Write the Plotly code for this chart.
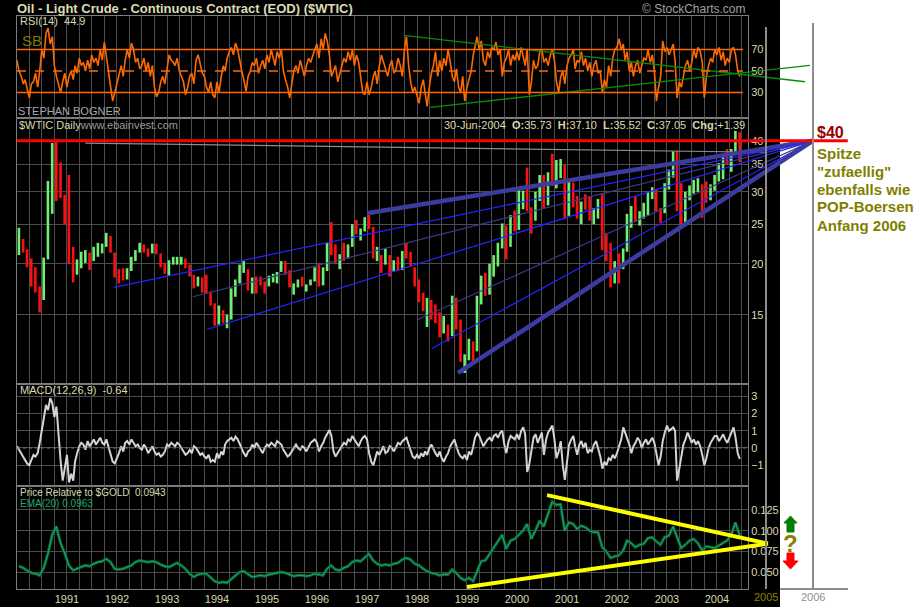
import numpy as np
import pandas as pd
import plotly.graph_objects as go

W, H = 915, 607

# ---------------- DATA ----------------
# monthly bars, Jan 1990 - Jun 2004
month_start = pd.date_range('1990-01-01', periods=174, freq='MS')
price_high = [
    24.5, 23.0, 21.7, 20.6, 19.6, 17.6, 20.7, 31.9, 39.5, 40.4, 35.4, 29.5,
    33.0, 22.0, 20.5, 21.4, 21.6, 21.3, 22.0, 22.5, 22.4, 23.8, 23.4, 21.3,
    19.4, 19.5, 19.5, 20.8, 21.6, 22.5, 22.3, 21.8, 22.4, 22.4, 21.2, 20.1,
    20.4, 20.8, 20.8, 20.8, 20.6, 19.9, 18.8, 18.6, 18.5, 18.8, 17.1, 16.0,
    15.8, 15.4, 15.0, 17.4, 18.3, 19.9, 20.3, 19.4, 18.5, 18.6, 18.6, 18.1,
    18.7, 18.9, 19.1, 20.3, 20.3, 19.3, 17.9, 18.3, 18.6, 17.8, 18.3, 19.6,
    20.0, 19.6, 22.5, 25.3, 22.3, 21.1, 22.5, 22.3, 25.0, 25.6, 24.4, 26.0,
    26.6, 24.6, 22.0, 21.0, 21.8, 21.0, 20.4, 20.8, 21.5, 22.5, 21.4, 19.6,
    18.3, 17.0, 16.5, 16.3, 15.9, 15.2, 14.9, 14.2, 16.7, 16.5, 14.6, 12.0,
    13.1, 12.9, 16.7, 18.7, 19.0, 20.0, 21.0, 22.5, 25.1, 24.8, 26.3, 27.0,
    30.3, 30.2, 34.4, 27.5, 30.0, 33.0, 33.0, 33.5, 37.2, 35.9, 36.1, 35.0,
    32.0, 31.6, 29.3, 28.4, 29.6, 29.3, 27.4, 28.8, 29.8, 23.8, 22.5, 20.3,
    21.2, 21.8, 26.5, 27.7, 29.3, 26.9, 28.2, 30.0, 30.8, 30.5, 27.4, 31.5,
    34.0, 37.7, 37.8, 31.5, 30.0, 31.1, 32.1, 32.4, 31.3, 31.8, 31.3, 33.0,
    35.3, 36.6, 38.2, 38.2, 42.3, 42.0,
]
price_low = [
    21.0, 21.3, 19.6, 17.6, 17.0, 15.2, 16.3, 20.5, 26.5, 28.5, 29.0, 25.0,
    20.0, 18.0, 18.8, 19.5, 20.1, 19.3, 20.3, 20.8, 21.2, 22.0, 21.3, 18.5,
    17.9, 18.2, 18.3, 19.2, 20.3, 21.3, 21.3, 20.8, 21.2, 21.1, 19.6, 18.9,
    18.7, 19.9, 19.9, 19.9, 19.5, 18.6, 17.4, 17.6, 17.0, 16.9, 15.8, 14.1,
    14.2, 14.3, 13.9, 14.6, 16.6, 17.9, 19.0, 17.2, 16.9, 16.9, 17.7, 16.9,
    17.6, 18.0, 17.9, 19.1, 18.8, 17.5, 16.8, 17.5, 17.6, 17.1, 17.7, 18.1,
    17.6, 17.7, 19.2, 21.0, 20.0, 19.4, 20.3, 20.6, 22.0, 23.6, 22.8, 24.0,
    24.3, 20.6, 20.3, 19.0, 19.9, 18.6, 19.1, 19.2, 19.3, 20.6, 19.7, 17.6,
    16.1, 15.3, 14.0, 14.6, 14.3, 13.2, 13.5, 12.9, 13.3, 13.8, 11.5, 10.8,
    11.6, 11.5, 12.2, 15.9, 16.7, 16.8, 18.6, 19.7, 21.8, 20.5, 22.0, 24.0,
    24.2, 27.2, 26.9, 23.7, 25.5, 28.5, 27.4, 27.8, 31.0, 30.6, 32.4, 25.8,
    26.2, 27.5, 25.8, 25.0, 27.1, 25.5, 25.0, 25.8, 21.6, 20.3, 17.5, 17.9,
    17.9, 19.4, 21.4, 24.5, 25.3, 24.8, 25.8, 26.2, 28.8, 26.9, 25.2, 26.6,
    30.4, 32.5, 26.9, 25.0, 25.1, 28.6, 29.7, 30.0, 25.9, 28.2, 28.6, 30.2,
    31.8, 32.2, 34.9, 33.6, 37.2, 35.5,
]
price_close = [
    22.7, 21.5, 20.3, 18.4, 17.4, 17.1, 20.7, 27.2, 39.0, 35.2, 29.5, 28.4,
    21.5, 19.0, 19.7, 20.9, 21.2, 20.4, 21.6, 21.7, 22.2, 23.3, 21.4, 19.1,
    18.9, 18.7, 19.3, 20.6, 21.5, 22.0, 21.7, 21.6, 21.9, 21.2, 20.2, 19.5,
    20.3, 20.4, 20.4, 20.6, 19.8, 18.9, 17.8, 18.3, 18.2, 17.0, 15.9, 14.2,
    15.2, 14.5, 14.6, 16.8, 18.2, 19.1, 19.4, 17.6, 18.4, 18.2, 18.1, 17.8,
    18.4, 18.5, 19.2, 20.2, 18.9, 17.6, 17.6, 17.8, 17.6, 17.6, 18.2, 19.6,
    17.7, 19.5, 21.5, 21.2, 19.8, 20.9, 20.4, 22.2, 24.4, 23.4, 24.5, 25.9,
    24.2, 20.6, 20.9, 20.2, 20.9, 19.8, 20.1, 19.6, 21.2, 21.1, 19.9, 17.6,
    17.2, 15.4, 15.6, 15.3, 15.2, 14.2, 14.2, 13.4, 16.1, 14.4, 11.6, 12.0,
    12.8, 12.3, 16.6, 18.7, 16.8, 19.3, 20.5, 22.1, 24.5, 21.8, 26.5, 25.6,
    27.6, 30.0, 26.9, 25.7, 29.0, 32.5, 27.4, 33.1, 30.8, 32.7, 34.4, 26.8,
    28.7, 27.4, 26.3, 28.5, 28.4, 26.3, 26.4, 27.2, 23.4, 21.2, 19.4, 19.8,
    19.5, 21.7, 26.3, 27.3, 25.3, 26.9, 27.0, 28.9, 30.5, 27.2, 26.9, 31.2,
    33.5, 36.6, 31.0, 25.8, 29.6, 30.2, 30.5, 31.6, 29.2, 29.1, 30.4, 32.5,
    33.1, 36.2, 35.8, 37.4, 39.9, 37.05,
]

# price relative to $GOLD, monthly
rel_gold = [
    0.057, 0.055, 0.052, 0.049, 0.048, 0.046, 0.055, 0.072, 0.095, 0.105, 0.085, 0.073,
    0.058, 0.052, 0.054, 0.056, 0.058, 0.057, 0.060, 0.062, 0.063, 0.066, 0.062, 0.054,
    0.053, 0.054, 0.056, 0.058, 0.062, 0.064, 0.063, 0.062, 0.063, 0.062, 0.059, 0.057,
    0.056, 0.059, 0.061, 0.058, 0.054, 0.048, 0.044, 0.047, 0.048, 0.048, 0.043, 0.039,
    0.037, 0.038, 0.037, 0.041, 0.046, 0.050, 0.051, 0.047, 0.044, 0.045, 0.046, 0.045,
    0.047, 0.048, 0.049, 0.050, 0.049, 0.047, 0.045, 0.046, 0.046, 0.045, 0.046, 0.048,
    0.047, 0.046, 0.054, 0.058, 0.053, 0.052, 0.055, 0.057, 0.062, 0.064, 0.063, 0.068,
    0.072, 0.064, 0.060, 0.058, 0.059, 0.058, 0.060, 0.061, 0.065, 0.067, 0.065, 0.060,
    0.058, 0.054, 0.051, 0.049, 0.048, 0.046, 0.047, 0.047, 0.053, 0.049, 0.043, 0.040,
    0.043, 0.039, 0.050, 0.063, 0.064, 0.072, 0.080, 0.087, 0.095, 0.078, 0.088, 0.090,
    0.095, 0.100, 0.108, 0.090, 0.100, 0.112, 0.105, 0.120, 0.135, 0.131, 0.132, 0.100,
    0.110, 0.108, 0.102, 0.106, 0.104, 0.100, 0.098, 0.098, 0.080, 0.075, 0.067, 0.069,
    0.070, 0.076, 0.088, 0.085, 0.080, 0.083, 0.084, 0.091, 0.092, 0.087, 0.083, 0.092,
    0.094, 0.105, 0.093, 0.079, 0.083, 0.088, 0.090, 0.085, 0.076, 0.081, 0.080, 0.079,
    0.082, 0.085, 0.088, 0.095, 0.110, 0.0943,
]

# RSI(14) and MACD, two readings per month (1st and 16th)
rsi = [
    60, 50, 45, 38, 42, 35, 25, 38, 40, 48, 35, 50, 70, 62, 85, 90, 75, 82, 55, 45, 38, 30, 40, 48,
    35, 45, 50, 42, 55, 48, 62, 55, 58, 50, 60, 52, 65, 58, 62, 55, 70, 60, 77, 62, 50, 35, 22, 30,
    40, 48, 55, 45, 60, 70, 62, 76, 70, 58, 62, 52, 55, 62, 50, 58, 45, 55, 35, 26, 30, 40, 45, 38,
    50, 65, 60, 58, 55, 62, 50, 45, 40, 28, 35, 45, 48, 38, 60, 65, 55, 48, 45, 35, 30, 40, 28, 25,
    40, 30, 45, 55, 50, 62, 68, 72, 65, 76, 70, 58, 50, 42, 31, 45, 50, 58, 55, 62, 48, 55, 60, 52,
    65, 58, 70, 62, 55, 68, 62, 70, 50, 42, 35, 25, 40, 50, 55, 48, 60, 52, 45, 55, 62, 58, 65, 70,
    75, 62, 80, 70, 85, 78, 65, 45, 50, 55, 40, 48, 55, 62, 58, 68, 60, 70, 55, 65, 58, 45, 30, 28,
    40, 28, 35, 45, 50, 38, 55, 65, 58, 50, 45, 55, 60, 48, 52, 62, 55, 45, 70, 82, 55, 40, 30, 35,
    28, 20, 35, 42, 30, 17, 35, 48, 55, 68, 45, 60, 50, 62, 55, 70, 58, 45, 40, 52, 35, 30, 45, 22,
    35, 42, 50, 65, 72, 82, 70, 78, 60, 55, 68, 62, 72, 70, 77, 65, 70, 45, 58, 62, 70, 55, 65, 60,
    68, 60, 72, 62, 55, 70, 28, 40, 60, 52, 55, 68, 70, 58, 62, 55, 65, 70, 60, 40, 30, 45, 50, 38,
    55, 62, 65, 70, 52, 60, 58, 68, 55, 62, 50, 58, 45, 55, 60, 48, 50, 30, 42, 35, 55, 45, 62, 70,
    72, 80, 70, 75, 60, 68, 50, 58, 45, 55, 60, 48, 55, 62, 60, 70, 58, 65, 50, 22, 35, 45, 78, 68,
    72, 65, 70, 75, 60, 25, 40, 35, 45, 55, 60, 50, 58, 70, 62, 72, 68, 58, 25, 45, 55, 62, 58, 70,
    65, 72, 60, 68, 55, 62, 58, 70, 72, 65, 50, 44.9,
]
macd = [
    0.1, -0.1, -0.3, -0.5, -0.7, -0.9, -1.0, -0.7, -0.4, -0.5, -0.3, 0.3, 1.0, 1.8, 2.5, 2.2, 2.9, 2.6, 1.8, 2.4, 0.5, -0.8, -1.9, -1.2,
    -0.4, -2.0, -1.5, -1.9, -0.8, -0.3, 0.1, 0.3, 0.2, -0.1, 0.4, 0.1, 0.3, 0.5, 0.2, 0.4, 0.6, 0.3, 0.2, 0.5, 0.0, -0.4, -0.8, -0.9,
    -0.6, -0.3, 0.1, -0.2, 0.3, 0.4, 0.2, 0.5, 0.3, 0.1, 0.2, 0.0, -0.1, 0.2, 0.0, -0.3, -0.1, 0.1, -0.2, -0.4, -0.3, -0.5, -0.4, -0.2,
    0.2, 0.1, 0.3, 0.2, 0.1, 0.3, 0.2, 0.0, -0.2, -0.4, -0.3, -0.1, -0.3, 0.1, 0.0, -0.2, -0.4, -0.3, -0.5, -0.6, -0.4, -0.8, -0.7, -0.8,
    -0.3, -0.6, -0.2, -0.4, 0.2, 0.4, 0.5, 0.6, 0.4, 0.66, 0.5, 0.2, 0.0, -0.3, -0.5, -0.2, -0.1, 0.2, 0.0, 0.3, 0.1, -0.1, -0.3, 0.0,
    0.2, 0.1, 0.3, 0.2, 0.1, 0.4, 0.3, 0.2, -0.1, -0.3, -0.5, -0.4, -0.2, 0.0, 0.2, 0.0, -0.1, 0.1, 0.0, -0.2, 0.1, 0.3, 0.4, 0.5,
    0.3, -0.2, 0.1, 0.3, 0.6, 0.8, 1.05, 0.7, -0.2, -0.5, -0.3, -0.1, 0.1, 0.3, 0.2, 0.5, 0.4, 0.7, 0.5, 0.3, 0.1, 0.4, 0.6, 0.7,
    0.5, -0.3, -0.8, -1.0, -0.6, -0.2, -0.4, -0.1, 0.1, -0.3, -0.2, 0.1, 0.0, -0.2, 0.1, 0.3, 0.2, 0.4, 0.5, 0.6, 0.2, -0.2, -0.5, -0.6,
    -0.4, -0.6, -0.3, -0.5, -0.2, -0.4, 0.0, 0.2, -0.1, -0.3, -0.5, -0.2, -0.6, -0.8, -0.5, -0.3, 0.1, 0.3, 0.5, 0.1, -0.3, -0.5, -0.6, -0.4,
    -0.7, -0.2, -0.4, 0.1, 0.6, 0.85, 0.7, 0.4, 0.1, 0.3, 0.5, 0.6, 0.4, 0.7, 0.8, 0.6, 0.9, 1.0, 0.2, -0.3, 0.4, 0.7, 0.6, 0.5,
    0.8, 0.5, 1.0, 1.2, 0.8, -1.4, -0.9, 0.0, 0.6, 0.8, 0.3, 0.6, 0.9, -0.4, 0.5, 0.9, 1.1, 1.3, 0.5, -0.6, -0.2, 0.4, -1.0, -1.85,
    -0.8, 0.2, 0.5, 0.7, 0.1, -0.4, 0.2, 0.4, 0.0, 0.3, -0.3, -0.1, -0.2, 0.2, 0.4, 0.0, -0.5, -1.2, -0.8, -1.0, -0.6, -0.7, -0.4, -0.6,
    -0.3, 0.1, 0.5, 1.2, 0.9, 0.6, 0.2, -0.3, 0.1, 0.3, 0.6, 0.4, 0.0, 0.3, 0.5, 0.2, 0.4, 0.6, 0.3, -0.4, -1.0, -0.5, 0.4, 0.9,
    1.3, 1.0, 1.1, 1.2, 1.0, -1.9, -1.2, -0.4, 0.2, 0.5, 0.9, 0.6, 0.3, 0.5, 0.2, 0.4, 0.1, -0.4, -1.0, -0.6, 0.0, 0.3, 0.5, 0.7,
    0.7, 0.4, 0.6, 0.8, 0.5, 0.3, 0.6, 0.9, 1.2, 0.6, -0.3, -0.64,
]

# hand drawn lines (start date, start value) -> common apex
fan_dates = ['1997-01-01', '1991-12-10', '1993-07-08', '1993-10-19', '1998-01-08', '1998-04-19', '1998-10-27']
fan_prices = [26.6, 17.5, 16.6, 13.8, 14.6, 12.4, 10.8]
fan_kind = ['thick', 'blue', 'dark', 'blue', 'dark', 'blue', 'thick']
fan_apex_date, fan_apex_price = '2005-12-01', 40.0
top_line_dates, top_line_prices = ['1991-05-15', '2004-12-31'], [39.5, 37.5]
red_line_dates, red_line_prices = ['1990-01-01', '2006-08-14'], [40, 40]
rsi_upper_dates, rsi_upper_vals = ['1997-09-27', '2005-10-05'], [83.2, 40.0]
rsi_lower_dates, rsi_lower_vals = ['1998-04-08', '2005-11-10'], [16.2, 55.3]
tri_upper_dates, tri_upper_vals = ['2000-08-08', '2005-01-08'], [0.143, 0.0844]
tri_lower_dates, tri_lower_vals = ['1999-01-01', '2005-01-08'], [0.032, 0.0844]

rsi_levels = [30, 50, 70]
price_ticks = [15, 20, 25, 30, 35, 40]
macd_ticks = [-1, 0, 1, 2, 3]
rel_ticks = [0.05, 0.075, 0.1, 0.125]

# ---------------- helpers ----------------
def px(x):
    return x / W

def py(y):
    return 1 - y / H

half_month = sorted(list(month_start) + list(month_start + pd.Timedelta(days=15)))
bar_dates = month_start + pd.Timedelta(days=14)

t0 = pd.Timestamp('1990-01-01')
year = pd.Timedelta(days=365.25)
main_end = t0 + year * ((748 - 17) / 50)
ext_end = t0 + year * ((860 - 17) / 50)

BEIGE = '#d8d8b0'
GRID = '#4c4c4c'
FONT = 'Liberation Sans'

fig = go.Figure()

# price bars (green up, red down)
up_x, up_y, dn_x, dn_y = [], [], [], []
prev = price_close[0]
for d, hi, lo, c in zip(bar_dates, price_high, price_low, price_close):
    if c >= prev:
        up_x += [d, d, None]
        up_y += [lo, hi, None]
    else:
        dn_x += [d, d, None]
        dn_y += [lo, hi, None]
    prev = c
fig.add_trace(go.Scatter(x=up_x, y=up_y, mode='lines', line=dict(color='#70f070', width=2.6),
                         xaxis='x2', yaxis='y2'))
fig.add_trace(go.Scatter(x=dn_x, y=dn_y, mode='lines', line=dict(color='#ff1010', width=2.6),
                         xaxis='x2', yaxis='y2'))

# RSI
fig.add_trace(go.Scatter(x=half_month, y=rsi, mode='lines', line=dict(color='#ff6a00', width=1.6),
                         xaxis='x', yaxis='y'))
# MACD
fig.add_trace(go.Scatter(x=half_month, y=macd, mode='lines', line=dict(color='#d4d4d4', width=2),
                         xaxis='x3', yaxis='y3'))
# relative to gold
fig.add_trace(go.Scatter(x=bar_dates, y=rel_gold, mode='lines', line=dict(color='#006a38', width=3),
                         xaxis='x4', yaxis='y4'))
fig.add_trace(go.Scatter(x=bar_dates, y=rel_gold, mode='lines', line=dict(color='#2aa468', width=1),
                         xaxis='x4', yaxis='y4'))

# ---- drawn lines on the extended axis ----
fig.add_trace(go.Scatter(x=top_line_dates, y=top_line_prices, mode='lines',
                         line=dict(color='#8c8c8c', width=1.2), xaxis='x5', yaxis='y6'))
styles = {'thick': dict(color='#3c3ca0', width=4.5),
          'blue': dict(color='#2424ff', width=1.2),
          'dark': dict(color='#3a3a8c', width=1.2)}
for d, p, k in zip(fan_dates, fan_prices, fan_kind):
    fig.add_trace(go.Scatter(x=[d, fan_apex_date], y=[p, fan_apex_price], mode='lines',
                             line=styles[k], xaxis='x5', yaxis='y6'))
fig.add_trace(go.Scatter(x=red_line_dates, y=red_line_prices, mode='lines',
                         line=dict(color='#ff0000', width=3), xaxis='x5', yaxis='y6'))
for xs, ys in [(rsi_upper_dates, rsi_upper_vals), (rsi_lower_dates, rsi_lower_vals)]:
    fig.add_trace(go.Scatter(x=xs, y=ys, mode='lines', line=dict(color='#0a8a0a', width=1.4),
                             xaxis='x5', yaxis='y5'))
for xs, ys in [(tri_upper_dates, tri_upper_vals), (tri_lower_dates, tri_lower_vals)]:
    fig.add_trace(go.Scatter(x=xs, y=ys, mode='lines', line=dict(color='#ffff00', width=4),
                             xaxis='x5', yaxis='y7'))

# ---------------- axes ----------------
grid_dates = pd.date_range('1990-01-01', '2004-07-01', freq='QS')
grid_text = [str(d.year) if (d.month == 1 and d.year > 1990) else '' for d in grid_dates]

xdom = [px(17), px(748)]
panel = dict(showline=True, mirror=True, linecolor='#7c7c7c', linewidth=1, zeroline=False)
xbase = dict(domain=xdom, range=[t0, main_end], tickvals=grid_dates, ticktext=grid_text,
             showgrid=True, gridcolor=GRID, gridwidth=1, ticks='', **panel)

layout_axes = dict(
    xaxis=dict(anchor='y', showticklabels=False, matches='x4', **xbase),
    xaxis2=dict(anchor='y2', showticklabels=False, matches='x4', **xbase),
    xaxis3=dict(anchor='y3', showticklabels=False, matches='x4', **xbase),
    xaxis4=dict(anchor='y4', showticklabels=True,
                tickfont=dict(color=BEIGE, size=11, family=FONT), **xbase),
    yaxis=dict(domain=[py(118), py(16)], range=[6.3, 101.2], anchor='x', side='right',
               tickvals=rsi_levels, showgrid=False, ticks='',
               tickfont=dict(color=BEIGE, size=11, family=FONT), **panel),
    yaxis2=dict(domain=[py(384), py(118)], type='log', range=[np.log10(10.15), np.log10(45.5)],
                anchor='x2', side='right', tickvals=price_ticks, showgrid=True, gridcolor=GRID,
                ticks='', tickfont=dict(color=BEIGE, size=11, family=FONT), **panel),
    yaxis3=dict(domain=[py(486), py(384)], range=[-2.21, 3.72], anchor='x3', side='right',
                tickvals=macd_ticks, showgrid=True, gridcolor=GRID, ticks='',
                tickfont=dict(color=BEIGE, size=11, family=FONT), **panel),
    yaxis4=dict(domain=[py(589), py(486)], range=[0.0295, 0.154], anchor='x4', side='right',
                tickvals=rel_ticks, tickformat='.3f', showgrid=True, gridcolor=GRID, ticks='',
                tickfont=dict(color=BEIGE, size=11, family=FONT), **panel),
    xaxis5=dict(domain=[px(17), px(860)], range=[t0, ext_end], anchor='y6', visible=False,
                showgrid=False),
    yaxis5=dict(overlaying='y', range=[6.3, 101.2], anchor='x5', visible=False, showgrid=False),
    yaxis6=dict(overlaying='y2', type='log', range=[np.log10(10.15), np.log10(45.5)],
                anchor='x5', visible=False, showgrid=False),
    yaxis7=dict(overlaying='y4', range=[0.0295, 0.154], anchor='x5', visible=False,
                showgrid=False),
)

# ---------------- shapes ----------------
shapes = [
    dict(type='rect', xref='paper', yref='paper', x0=0, x1=px(780), y0=0, y1=1,
         fillcolor='#000000', line_width=0, layer='below'),
    dict(type='line', xref='paper', yref='paper', x0=px(766), x1=px(766), y0=py(589), y1=py(27),
         line=dict(color='#8c8c8c', width=2)),
    dict(type='line', xref='paper', yref='paper', x0=px(813), x1=px(813), y0=py(589), y1=py(23),
         line=dict(color='#8c8c8c', width=2)),
    dict(type='line', xref='paper', yref='paper', x0=px(780), x1=px(848), y0=py(589), y1=py(589),
         line=dict(color='#8c8c8c', width=2)),
]
for lv in rsi_levels:
    shapes.append(dict(type='line', xref='x domain', yref='y', x0=0, x1=0.993, y0=lv, y1=lv,
                       line=dict(color='#ff6a00', width=1.5, dash='dash' if lv == 50 else 'solid')))
shapes.append(dict(type='line', xref='x3 domain', yref='y3', x0=0, x1=1, y0=0, y1=0,
                   line=dict(color='#7070c0', width=1, dash='dot')))

# arrows next to the triangle
up = [(784, 523), (790.5, 516), (797, 523), (794, 523), (794, 532), (787, 532), (787, 523)]
dn = [(787, 553), (794, 553), (794, 561), (798, 561), (790.5, 569), (783, 561), (787, 561)]
for pts, col in [(up, '#008000'), (dn, '#ff0000')]:
    path = 'M ' + ' L '.join(f'{px(a):.5f},{py(b):.5f}' for a, b in pts) + ' Z'
    shapes.append(dict(type='path', xref='paper', yref='paper', path=path,
                       fillcolor=col, line=dict(color=col, width=1)))

# ---------------- texts ----------------
def label(x, y, text, color=BEIGE, size=11, anchor='left', bold=False):
    if bold:
        text = f'<b>{text}</b>'
    return dict(xref='paper', yref='paper', x=px(x), y=py(y), text=text, showarrow=False,
                xanchor=anchor, yanchor='middle', font=dict(color=color, size=size, family=FONT))

annotations = [
    label(15, 9, 'Oil - Light Crude - Continuous Contract (EOD) ($WTIC)', '#dcdcb4', 13, bold=True),
    label(748, 9, '© StockCharts.com', '#a0a0a0', 12, anchor='right'),
    label(18, 21, 'RSI(14)  44.9'),
    label(20, 41, 'SB', '#7a7a00', 15),
    label(16, 111, 'STEPHAN BOGNER', '#a8a8a8', 11),
    label(17, 125, '$WTIC Daily<span style="color:#9a9a9a">www.ebainvest.com</span>'),
    label(747, 125, '30-Jun-2004  <b>O:</b>35.73  <b>H:</b>37.10  <b>L:</b>35.52  '
                    '<b>C:</b>37.05  <b>Chg:</b>+1.39', anchor='right'),
    label(18, 390, 'MACD(12,26,9)  -0.64'),
    label(18, 492, 'Price Relative to $GOLD  0.0943', size=10),
    label(18, 503, 'EMA(20) 0.0963', '#1aa868', 10),
    label(766, 597, '2005', '#8a8000', 11, anchor='center'),
    label(813, 597, '2006', '#909090', 11, anchor='center'),
    label(815, 132, '$40', '#990000', 16, bold=True),
    label(815, 153, 'Spitze', '#7f7f00', 15, bold=True),
    label(815, 171, '"zufaellig"', '#7f7f00', 15, bold=True),
    label(815, 189, 'ebenfalls wie', '#7f7f00', 15, bold=True),
    label(815, 207, 'POP-Boersen', '#7f7f00', 15, bold=True),
    label(815, 225, 'Anfang 2006', '#7f7f00', 15, bold=True),
    label(790, 543, '?', '#8a8000', 24, anchor='center', bold=True),
]

fig.update_layout(
    width=W, height=H, margin=dict(l=0, r=0, t=0, b=0),
    paper_bgcolor='#ffffff', plot_bgcolor='rgba(0,0,0,0)',
    showlegend=False, shapes=shapes, annotations=annotations,
    font=dict(family=FONT, color=BEIGE),
    **layout_axes,
)

# the page body has a default 8px margin: drop it so the figure sits at the window corner
fig.write_html('out.html', config={'displayModeBar': False},
               post_script="document.body.style.margin='0px';")
